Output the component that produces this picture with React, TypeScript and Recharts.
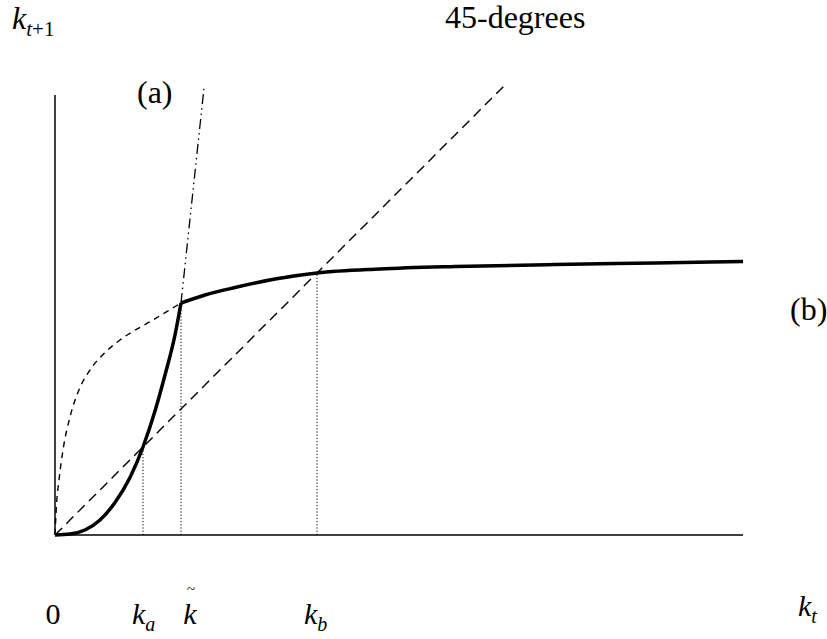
import React from 'react';
import { LineChart, Line, XAxis, YAxis, ReferenceLine } from 'recharts';

// key capital levels on the horizontal axis
const kA = 1.76;
const kTilde = 2.52;
const kB = 5.24;
const kMax = 13.76;
const yAxisTop = 8.8;

// 45-degree line and the steep (a) line
const diagonal = [{ x: 0, y: 0 }, { x: 9.0, y: 9.0 }];
const lineA = [{ x: 2.52, y: 4.64 }, { x: 2.98, y: 8.94 }];

// thin dashed concave curve below k~
const dashedCurve = [
  { x: 0, y: 0 }, { x: 0.03, y: 0.6 }, { x: 0.08, y: 1.1 }, { x: 0.16, y: 1.7 },
  { x: 0.3, y: 2.36 }, { x: 0.5, y: 2.95 }, { x: 0.7, y: 3.3 }, { x: 1.0, y: 3.65 },
  { x: 1.3, y: 3.9 }, { x: 1.96, y: 4.3 }, { x: 2.52, y: 4.64 },
];

// thick solid curve, convex part up to k~
const lowBranch = [
  { x: 0, y: 0 }, { x: 0.3, y: 0.02 }, { x: 0.6, y: 0.1 }, { x: 0.9, y: 0.3 },
  { x: 1.2, y: 0.65 }, { x: 1.5, y: 1.15 }, { x: 1.76, y: 1.76 }, { x: 2.0, y: 2.48 },
  { x: 2.2, y: 3.2 }, { x: 2.4, y: 4.0 }, { x: 2.52, y: 4.64 },
];

// thick solid curve, concave part beyond k~
const highBranch = [
  { x: 2.52, y: 4.64 }, { x: 3.0, y: 4.8 }, { x: 3.6, y: 4.95 }, { x: 4.4, y: 5.12 },
  { x: 5.24, y: 5.24 }, { x: 6.5, y: 5.32 }, { x: 8, y: 5.37 }, { x: 10, y: 5.41 },
  { x: 12, y: 5.44 }, { x: 13.76, y: 5.47 },
];

const xTicks = [0, kA, kTilde, kB];
const tickSubs = ['', 'a', '~', 'b'];

const serif = 'Liberation Serif';
const txt = { fontFamily: serif } as React.CSSProperties;

const KTick = (props: any) => {
  const { x, y, index } = props;
  const sub = tickSubs[index];
  const base = y + 81;
  if (index === 0) {
    return (
      <text x={x - 2} y={base} style={txt} fontSize={30} textAnchor="middle" fill="#000">0</text>
    );
  }
  if (sub === '~') {
    return (
      <g>
        <text x={x + 9} y={base} style={txt} fontSize={30} fontStyle="italic" textAnchor="middle" fill="#000">k</text>
        <text x={x + 10} y={base - 30} style={txt} fontSize={15} textAnchor="middle" fill="#000">~</text>
      </g>
    );
  }
  const shift = sub === 'a' ? -11 : -13;
  return (
    <text x={x + shift} y={base} style={txt} fontSize={30} fontStyle="italic" textAnchor="start" fill="#000">
      k<tspan fontSize={20} dy={7}>{sub}</tspan>
    </text>
  );
};

export default function App() {
  return (
    <div style={{ position: 'relative', width: 827, height: 639, background: '#fff' }}>
      <style>{'body{margin:0}'}</style>
      <LineChart
        width={827}
        height={639}
        margin={{ top: 80, right: 84, bottom: 74, left: 55 }}
      >
        <XAxis
          type="number"
          dataKey="x"
          domain={[0, kMax]}
          ticks={xTicks}
          tick={<KTick />}
          tickLine={false}
          height={30}
          axisLine={{ stroke: '#000', strokeWidth: 1.5 }}
          interval={0}
        />
        <YAxis type="number" dataKey="y" domain={[0, 9.1]} hide width={0} />
        <ReferenceLine segment={[{ x: 0, y: 0 }, { x: 0, y: yAxisTop }]} stroke="#000" strokeWidth={1.5} />
        <ReferenceLine segment={[{ x: kA, y: 0 }, { x: kA, y: kA }]} stroke="#000" strokeDasharray="1.2 2" />
        <ReferenceLine segment={[{ x: kTilde, y: 0 }, { x: kTilde, y: 4.64 }]} stroke="#000" strokeDasharray="1.2 2" />
        <ReferenceLine segment={[{ x: kB, y: 0 }, { x: kB, y: 5.24 }]} stroke="#000" strokeDasharray="1.2 2" />
        <Line data={diagonal} dataKey="y" type="linear" stroke="#000" strokeWidth={1.4} strokeDasharray="10 6" dot={false} isAnimationActive={false} />
        <Line data={lineA} dataKey="y" type="linear" stroke="#000" strokeWidth={1.3} strokeDasharray="10 4 1.5 4 1.5 4" dot={false} isAnimationActive={false} />
        <Line data={dashedCurve} dataKey="y" type="monotone" stroke="#000" strokeWidth={1.4} strokeDasharray="6 5" dot={false} isAnimationActive={false} />
        <Line data={lowBranch} dataKey="y" type="monotone" stroke="#000" strokeWidth={3.5} dot={false} isAnimationActive={false} />
        <Line data={highBranch} dataKey="y" type="monotone" stroke="#000" strokeWidth={3.5} dot={false} isAnimationActive={false} />
      </LineChart>
      <svg width={827} height={639} style={{ position: 'absolute', left: 0, top: 0, pointerEvents: 'none' }}>
        <text x={12} y={29} style={txt} fontSize={32} fontStyle="italic" fill="#000">
          k<tspan fontSize={21} dy={7}>t</tspan><tspan fontSize={21} fontStyle="normal">+1</tspan>
        </text>
        <text x={445} y={28} style={txt} fontSize={32} fill="#000">45-degrees</text>
        <text x={137} y={103} style={txt} fontSize={32} fill="#000">(a)</text>
        <text x={790} y={320} style={txt} fontSize={32} fill="#000">(b)</text>
        <text x={798} y={616} style={txt} fontSize={30} fontStyle="italic" fill="#000">
          k<tspan fontSize={20} dy={7}>t</tspan>
        </text>
      </svg>
    </div>
  );
}
